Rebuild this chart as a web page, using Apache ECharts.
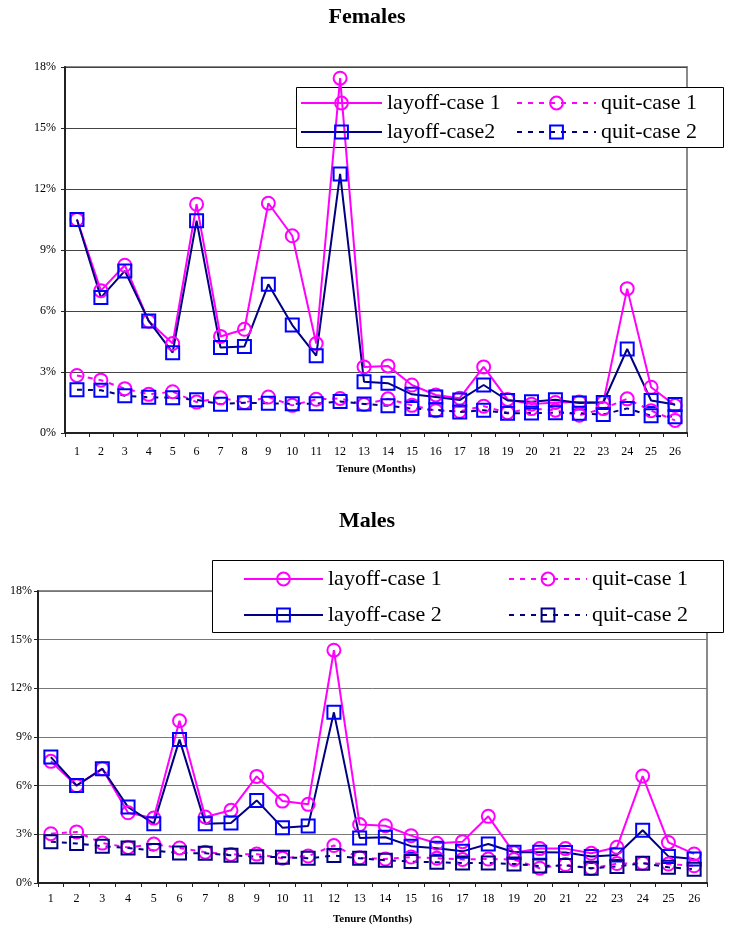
<!DOCTYPE html>
<html>
<head>
<meta charset="utf-8">
<script src="https://cdn.jsdelivr.net/npm/echarts@6/dist/echarts.min.js"></script>
<style>
html,body{margin:0;padding:0;background:#fff;}
#c1{position:absolute;left:0;top:0;width:734px;height:480px;}
#c2{position:absolute;left:0;top:480px;width:734px;height:450px;}
</style>
</head>
<body>
<div id="c1"></div>
<div id="c2"></div>
<script>
const tenure = ['1','2','3','4','5','6','7','8','9','10','11','12','13','14','15','16','17','18','19','20','21','22','23','24','25','26'];
const yTickValues = [0, 3, 6, 9, 12, 15, 18];

const femLayoff1 = [10.5, 7.0, 8.25, 5.5, 4.4, 11.25, 4.75, 5.1, 11.3, 9.7, 4.4, 17.45, 3.25, 3.3, 2.36, 1.87, 1.71, 3.25, 1.65, 1.42, 1.5, 1.52, 1.5, 7.1, 2.25, 1.35];
const femLayoff2 = [10.5, 6.66, 7.97, 5.51, 3.95, 10.44, 4.2, 4.25, 7.31, 5.31, 3.8, 12.74, 2.52, 2.45, 1.9, 1.77, 1.62, 2.36, 1.6, 1.54, 1.64, 1.48, 1.5, 4.13, 1.6, 1.4];
const femQuit1 = [2.83, 2.6, 2.18, 1.9, 2.03, 1.52, 1.73, 1.5, 1.77, 1.36, 1.66, 1.7, 1.4, 1.68, 1.36, 1.1, 1.07, 1.32, 1.0, 1.2, 1.12, 0.87, 1.2, 1.68, 1.1, 0.62];
const femQuit2 = [2.13, 2.1, 1.83, 1.76, 1.73, 1.63, 1.42, 1.49, 1.46, 1.44, 1.44, 1.55, 1.43, 1.34, 1.2, 1.14, 1.03, 1.12, 0.97, 0.98, 1.0, 0.97, 0.91, 1.21, 0.85, 0.8];

const maleLayoff1 = [7.5, 6.0, 7.05, 4.33, 4.0, 10.0, 4.07, 4.48, 6.57, 5.05, 4.85, 14.35, 3.6, 3.53, 2.92, 2.45, 2.55, 4.11, 1.86, 2.12, 2.12, 1.83, 2.2, 6.59, 2.5, 1.79];
const maleLayoff2 = [7.76, 6.01, 7.04, 4.68, 3.66, 8.84, 3.66, 3.7, 5.09, 3.41, 3.52, 10.52, 2.78, 2.82, 2.27, 2.14, 1.95, 2.4, 1.9, 1.9, 1.88, 1.64, 1.73, 3.25, 1.64, 1.48];
const maleQuit1 = [3.04, 3.15, 2.46, 2.19, 2.4, 2.16, 1.9, 1.76, 1.78, 1.53, 1.66, 2.31, 1.55, 1.48, 1.6, 1.53, 1.45, 1.48, 1.45, 0.91, 1.14, 0.89, 1.2, 1.22, 1.17, 1.06];
const maleQuit2 = [2.55, 2.44, 2.27, 2.16, 2.0, 1.85, 1.83, 1.71, 1.62, 1.59, 1.52, 1.69, 1.52, 1.4, 1.32, 1.28, 1.23, 1.23, 1.17, 1.05, 1.08, 0.91, 1.02, 1.22, 0.97, 0.85];

const SERIF = '"Liberation Serif", "Times New Roman", serif';
const MAGENTA = '#FF00FF', NAVY = '#000080', BLUE = '#0000FF';

function mkSeries(name, data, lineColor, symbol, markColor, dashed) {
  return {
    name: name, type: 'line', data: data,
    symbol: symbol, symbolSize: 13, showSymbol: true,
    lineStyle: { color: lineColor, width: 2, type: dashed ? [5, 6] : 'solid' },
    itemStyle: { color: 'rgba(255,255,255,0)', borderColor: markColor, borderWidth: 2 },
    emphasis: { disabled: true },
    animation: false
  };
}

function buildOption(cfg) {
  return {
    animation: false,
    backgroundColor: '#fff',
    title: {
      text: cfg.title, left: 'center', top: cfg.titleTop, padding: 0,
      textStyle: { fontFamily: SERIF, fontSize: 22, fontWeight: 'bold', color: '#000' }
    },
    grid: {
      left: cfg.grid.left, right: cfg.grid.right, top: cfg.grid.top, height: cfg.grid.height,
      show: true, borderColor: '#8a8a8a', borderWidth: 2, backgroundColor: 'transparent'
    },
    xAxis: {
      type: 'category', data: tenure, boundaryGap: true,
      name: 'Tenure (Months)', nameLocation: 'middle', nameGap: cfg.nameGap,
      nameTextStyle: { fontFamily: SERIF, fontSize: 11, fontWeight: 'bold', color: '#000' },
      axisLine: { lineStyle: { color: '#222', width: 2 } },
      axisTick: { show: true, alignWithLabel: false, length: 4, lineStyle: { color: '#222', width: 1 } },
      axisLabel: { fontFamily: SERIF, fontSize: 12, color: '#000', margin: cfg.xLabelMargin, interval: 0 },
      splitLine: { show: false }
    },
    yAxis: {
      type: 'value', min: yTickValues[0], max: yTickValues[yTickValues.length - 1], interval: 3,
      axisLine: { show: true, lineStyle: { color: '#222', width: 2 } },
      axisTick: { show: true, length: 4, lineStyle: { color: '#222' } },
      axisLabel: { fontFamily: SERIF, fontSize: 12, color: '#000', margin: cfg.yLabelMargin, formatter: '{value}%' },
      splitLine: { show: true, lineStyle: { color: cfg.gridColor, width: 1 } }
    },
    legend: [
      {
        data: cfg.legendCol1, orient: 'vertical', left: cfg.legendLeft1, top: cfg.legendTop,
        itemWidth: cfg.itemWidth1, itemHeight: 16, itemGap: cfg.legendGap, padding: 0,
        selectedMode: false, z: 5,
        textStyle: { fontFamily: SERIF, fontSize: 22, color: '#000' }
      },
      {
        data: cfg.legendCol2, orient: 'vertical', left: cfg.legendLeft2, top: cfg.legendTop,
        itemWidth: cfg.itemWidth2, itemHeight: 16, itemGap: cfg.legendGap, padding: 0,
        selectedMode: false, z: 5,
        textStyle: { fontFamily: SERIF, fontSize: 22, color: '#000' }
      }
    ],
    graphic: [{
      type: 'rect', z: 3,
      shape: { x: cfg.box.x + 0.5, y: cfg.box.y + 0.5, width: cfg.box.w, height: cfg.box.h },
      style: { fill: '#fff', stroke: '#000', lineWidth: 1 }
    }],
    series: cfg.series
  };
}

const fem = echarts.init(document.getElementById('c1'), null, { renderer: 'canvas' });
fem.setOption(buildOption({
  title: 'Females', titleTop: 6,
  grid: { left: 65, right: 47, top: 67, height: 366 },
  nameGap: 31, xLabelMargin: 13, yLabelMargin: 9, gridColor: '#444',
  legendCol1: ['layoff-case 1', 'layoff-case2'],
  legendCol2: ['quit-case 1', 'quit-case 2'],
  legendLeft1: 300, legendLeft2: 516, legendTop: 92, legendGap: 7,
  itemWidth1: 81, itemWidth2: 79,
  box: { x: 296, y: 87, w: 427, h: 60 },
  series: [
    mkSeries('layoff-case 1', femLayoff1, MAGENTA, 'circle', MAGENTA, false),
    mkSeries('layoff-case2', femLayoff2, NAVY, 'rect', BLUE, false),
    mkSeries('quit-case 1', femQuit1, MAGENTA, 'circle', MAGENTA, true),
    mkSeries('quit-case 2', femQuit2, NAVY, 'rect', BLUE, true)
  ]
}));

const male = echarts.init(document.getElementById('c2'), null, { renderer: 'canvas' });
male.setOption(buildOption({
  title: 'Males', titleTop: 30,
  grid: { left: 38, right: 27, top: 111, height: 293.5 },
  nameGap: 31, xLabelMargin: 10, yLabelMargin: 6, gridColor: '#777',
  legendCol1: ['layoff-case 1', 'layoff-case 2'],
  legendCol2: ['quit-case 1', 'quit-case 2'],
  legendLeft1: 243, legendLeft2: 508, legendTop: 88, legendGap: 14,
  itemWidth1: 79, itemWidth2: 78,
  box: { x: 212, y: 80, w: 511, h: 72 },
  series: [
    mkSeries('layoff-case 1', maleLayoff1, MAGENTA, 'circle', MAGENTA, false),
    mkSeries('layoff-case 2', maleLayoff2, NAVY, 'rect', BLUE, false),
    mkSeries('quit-case 1', maleQuit1, MAGENTA, 'circle', MAGENTA, true),
    mkSeries('quit-case 2', maleQuit2, NAVY, 'rect', NAVY, true)
  ]
}));
</script>
</body>
</html>
